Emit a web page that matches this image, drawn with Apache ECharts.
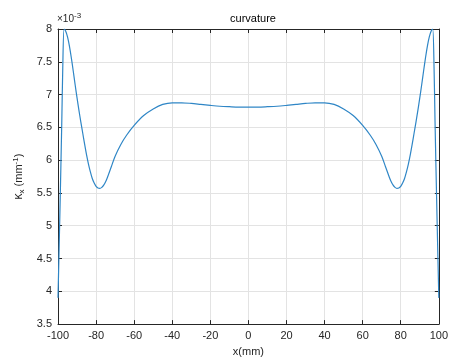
<!DOCTYPE html>
<html>
<head>
<meta charset="utf-8">
<script src="https://cdn.jsdelivr.net/npm/echarts@6/dist/echarts.min.js"></script>
<style>
  html, body { margin: 0; padding: 0; background: #fff; }
  #chart { width: 451px; height: 362px; }
</style>
</head>
<body>
<div id="chart"></div>
<script>
// half profile, x in mm (left side), curvature in 1e-3 / mm
const xLeft = [-100, -99, -98, -97.5, -96.8, -96, -95, -94, -93, -92, -91, -90, -89, -88, -87, -86, -85, -84, -83, -82, -81, -80, -79, -78, -77, -76, -75, -74, -72, -70, -67, -64, -60, -55, -50, -45, -40, -35, -30, -25, -20, -15, -10, -5, 0]
const kLeft = [3.9, 5.2, 6.6, 7.4, 8.0, 7.97, 7.88, 7.74, 7.56, 7.36, 7.15, 6.95, 6.76, 6.58, 6.41, 6.24, 6.08, 5.94, 5.82, 5.72, 5.65, 5.6, 5.575, 5.57, 5.585, 5.62, 5.67, 5.74, 5.9, 6.06, 6.24, 6.38, 6.53, 6.68, 6.78, 6.85, 6.875, 6.875, 6.865, 6.85, 6.835, 6.822, 6.815, 6.81, 6.81]

const xTicks = [-100, -80, -60, -40, -20, 0, 20, 40, 60, 80, 100]
const yTicks = [3.5, 4, 4.5, 5, 5.5, 6, 6.5, 7, 7.5, 8]

// mirror the left half to get the full curve
const points = xLeft.map((x, i) => [x, kLeft[i]])
for (let i = xLeft.length - 2; i >= 0; i--) {
  points.push([-xLeft[i], kLeft[i]])
}

const chart = echarts.init(document.getElementById("chart"))

const axisColor = "#262626"
const font = "Liberation Sans, Arial, sans-serif"

const option = {
  animation: false,
  title: {
    text: "curvature",
    left: 248,
    top: 8,
    textAlign: "center",
    textStyle: { fontSize: 11, fontWeight: "normal", color: "#000", fontFamily: font },
  },
  grid: { left: 58, right: 12, top: 29, bottom: 37 },
  xAxis: [
    {
      type: "value",
      min: xTicks[0],
      max: xTicks[xTicks.length - 1],
      interval: 20,
      name: "x(mm)",
      nameLocation: "middle",
      nameGap: 20,
      nameTextStyle: { fontSize: 11, color: axisColor, fontFamily: font },
      axisLine: { onZero: false, lineStyle: { color: axisColor, width: 1 } },
      axisTick: { inside: true, length: 4, lineStyle: { color: axisColor } },
      axisLabel: { fontSize: 11, color: axisColor, fontFamily: font, margin: 6 },
      splitLine: { show: true, lineStyle: { color: "#e3e3e3" } },
    },
    {
      type: "value",
      position: "top",
      min: xTicks[0],
      max: xTicks[xTicks.length - 1],
      interval: 20,
      axisLine: { onZero: false, lineStyle: { color: axisColor, width: 1 } },
      axisTick: { inside: true, length: 4, lineStyle: { color: axisColor } },
      axisLabel: { show: false },
      splitLine: { show: false },
    },
  ],
  yAxis: [
    {
      type: "value",
      min: yTicks[0],
      max: yTicks[yTicks.length - 1],
      interval: 0.5,
      name: "{k|κ}{s|x}{n| (mm}{p|-1}{n|)}",
      nameLocation: "middle",
      nameRotate: 90,
      nameGap: 30,
      nameTextStyle: {
        rich: {
          k: { fontSize: 12, color: axisColor, fontFamily: font },
          s: { fontSize: 8, color: axisColor, fontFamily: font, padding: [6, 0, 0, 0] },
          n: { fontSize: 11, color: axisColor, fontFamily: font },
          p: { fontSize: 8, color: axisColor, fontFamily: font, padding: [0, 0, 7, 0] },
        },
      },
      axisLine: { show: true, onZero: false, lineStyle: { color: axisColor, width: 1 } },
      axisTick: { show: true, inside: true, length: 4, lineStyle: { color: axisColor } },
      axisLabel: { fontSize: 11, color: axisColor, fontFamily: font, margin: 6 },
      splitLine: { show: true, lineStyle: { color: "#e3e3e3" } },
    },
    {
      type: "value",
      position: "right",
      min: yTicks[0],
      max: yTicks[yTicks.length - 1],
      interval: 0.5,
      axisLine: { show: true, onZero: false, lineStyle: { color: axisColor, width: 1 } },
      axisTick: { show: true, inside: true, length: 4, lineStyle: { color: axisColor } },
      axisLabel: { show: false },
      splitLine: { show: false },
    },
  ],
  graphic: [
    {
      type: "text",
      left: 57,
      top: 12,
      style: {
        text: "{a|×10}{b|-3}",
        rich: {
          a: { fontSize: 10, fill: axisColor, fontFamily: font },
          b: { fontSize: 8, fill: axisColor, fontFamily: font, padding: [0, 0, 6, 0] },
        },
      },
    },
  ],
  series: [
    {
      type: "line",
      data: points,
      smooth: 0.3,
      showSymbol: false,
      lineStyle: { color: "#2f86c6", width: 1.2 },
    },
  ],
}

chart.setOption(option)
</script>
</body>
</html>
